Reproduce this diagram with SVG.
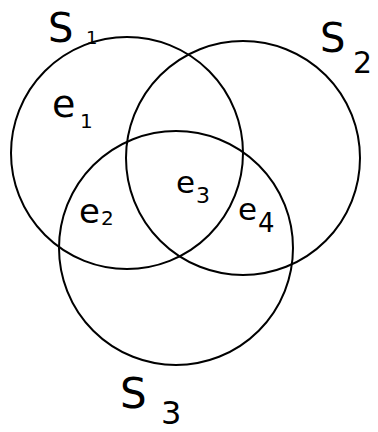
<svg xmlns="http://www.w3.org/2000/svg" width="378" height="432" viewBox="0 0 378 432">
<style>
.c{fill:none;stroke:#000;stroke-width:2}
.t{font-family:"DejaVu Sans",sans-serif;fill:#000;font-weight:normal}
</style>
<rect width="378" height="432" fill="#fff"/>
<g id="S1">
<circle class="c" cx="127" cy="153" r="116"/>
<text class="t" x="48" y="42" font-size="40">S</text>
<text class="t" x="86" y="44" font-size="18">1</text>
</g>
<g id="S2">
<circle class="c" cx="243" cy="158" r="117"/>
<text class="t" x="320" y="52" font-size="40">S</text>
<text class="t" x="353" y="73" font-size="30">2</text>
</g>
<g id="S3">
<circle class="c" cx="176" cy="248" r="117"/>
<text class="t" x="120" y="408" font-size="42">S</text>
<text class="t" x="161" y="424" font-size="32">3</text>
</g>
<g id="e1"><text class="t" x="52" y="117" font-size="38">e</text><text class="t" x="80" y="128" font-size="20">1</text></g>
<g id="e2"><text class="t" x="79" y="223" font-size="34">e</text><text class="t" x="101" y="225" font-size="20">2</text></g>
<g id="e3"><text class="t" x="176" y="193" font-size="31">e</text><text class="t" x="196" y="203" font-size="22">3</text></g>
<g id="e4"><text class="t" x="238" y="220" font-size="31">e</text><text class="t" x="258" y="232" font-size="26">4</text></g>
<g id="connectors"/>
</svg>
